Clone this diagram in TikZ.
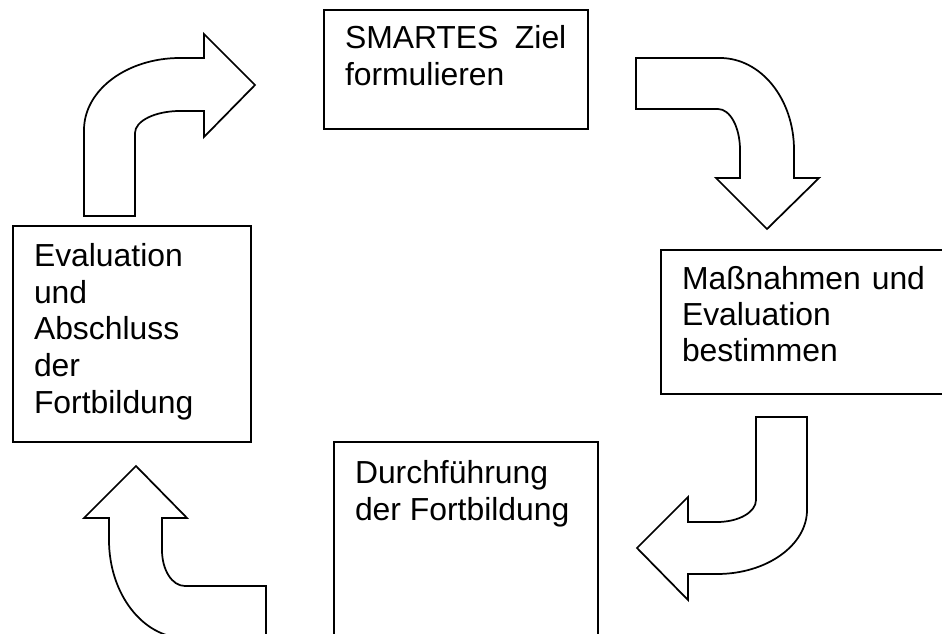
\documentclass[tikz,border=0pt]{standalone}
\usepackage{fontspec}
\setmainfont{Liberation Sans}
\begin{document}
\begin{tikzpicture}[x=0.75pt,y=-0.75pt,
  boxline/.style={draw=black,line width=1.2pt,line join=miter},
  bigarrow/.style={draw=black,line width=1.3pt,line join=miter,fill=white},
  txt/.style={anchor=base west,inner sep=0pt,outer sep=0pt,font=\fontsize{23.9}{28}\selectfont}]
\useasboundingbox (0,0) rectangle (942,634);
\clip (0,0) rectangle (942,634);
\fill[white] (0,0) rectangle (942,634);
% boxes
\draw[boxline] (324,10) rectangle (588,129);
\draw[boxline] (661,250) rectangle (960,394);
\draw[boxline] (13,226) rectangle (251,442);
\draw[boxline] (334,442) rectangle (598,660);
% texts
\node[txt] (t1a) at (345,49) {\hbox to 166pt{SMARTES\hfill Ziel}};
\node[txt] (t1b) at (345,86) {formulieren};
\node[txt] (t2a) at (682,290) {\hbox to 182.25pt{Maßnahmen\hfill und}};
\node[txt] (t2b) at (682,326) {Evaluation};
\node[txt] (t2c) at (682,362) {bestimmen};
\node[txt] (t3a) at (34,267) {Evaluation};
\node[txt] (t3b) at (34,303.5) {und};
\node[txt] (t3c) at (34,340) {Abschluss};
\node[txt] (t3d) at (34,376.5) {der};
\node[txt] (t3e) at (34,413) {Fortbildung};
\node[txt] (t4a) at (355,483) {Durchführung};
\node[txt] (t4b) at (355,520) {der Fortbildung};
% arrow 1 (up, then right)
\draw[bigarrow] (84,216) -- (84,130) .. controls (84,90) and (127,58) .. (180,58)
  -- (204,58) -- (204,34) -- (255,85) -- (204,137) -- (204,111) -- (180,111)
  .. controls (155,111) and (135,121) .. (135,133) -- (135,216) -- cycle;
% arrow 2 (right, then down)
\draw[bigarrow] (636,58) -- (720,58) .. controls (761,58) and (794,99) .. (794,150)
  -- (794,178) -- (819,178) -- (767,229) -- (716,178) -- (740,178) -- (740,150)
  .. controls (740,127) and (730,109) .. (718,109) -- (636,109) -- cycle;
% arrow 3 (down, then left)
\draw[bigarrow] (756,417) -- (807,417) -- (807,510) .. controls (807,545) and (767,574) .. (717,574)
  -- (688,574) -- (688,600) -- (637,548) -- (688,497) -- (688,522) -- (717,522)
  .. controls (739,522) and (756,512) .. (756,500) -- cycle;
% arrow 4 (left, then up)
\draw[bigarrow] (136,466) -- (187,518) -- (162,518) -- (162,550)
  .. controls (162,570) and (172,586) .. (185,586) -- (266,586) -- (266,638) -- (185,638)
  .. controls (143,638) and (109,594) .. (109,540) -- (109,518) -- (84,518) -- cycle;
\end{tikzpicture}
\end{document}
